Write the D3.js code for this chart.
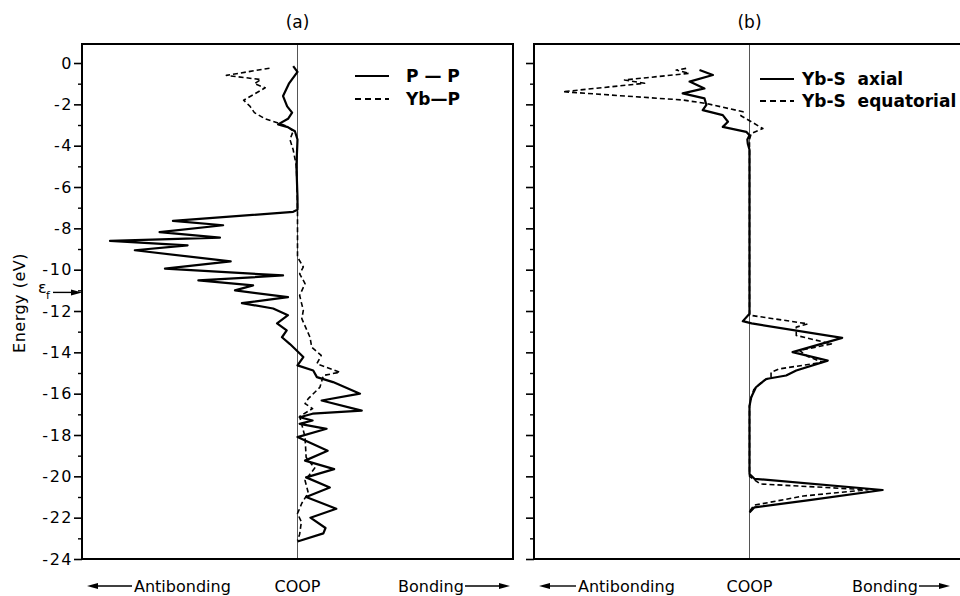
<!DOCTYPE html>
<html>
<head>
<meta charset="utf-8">
<script src="https://cdn.jsdelivr.net/npm/d3@7"></script>
<style>
  body { margin: 0; background: #fff; }
  svg { display: block; font-family: "DejaVu Sans", "Liberation Sans", sans-serif; }
</style>
</head>
<body>
<svg id="chart" width="960" height="596"></svg>
<script>
// energy (eV) and COOP pairs
var ppEnergy = [-0.15, -0.43, -1.0, -1.6, -2.1, -2.4, -2.7, -2.97, -3.1, -3.3, -3.7, -5.0, -6.5, -7.1, -7.2, -7.64, -7.85, -8.18, -8.45, -8.61, -8.82, -9.06, -9.6, -9.95, -10.28, -10.52, -10.76, -11.0, -11.33, -11.62, -11.88, -12.2, -12.6, -12.94, -13.27, -13.6, -13.9, -14.23, -14.63, -14.88, -15.2, -15.44, -16.0, -16.33, -16.82, -16.97, -17.14, -17.3, -17.46, -17.7, -18.1, -18.76, -19.24, -19.65, -20.05, -20.54, -21.0, -21.57, -22.0, -22.5, -22.76, -23.15];
var ppCoop = [-0.02, 0, -0.04, -0.067, -0.048, -0.025, -0.044, -0.09, -0.045, -0.012, 0, -0.005, 0, 0, -0.02, -0.578, -0.345, -0.64, -0.36, -0.87, -0.51, -0.755, -0.31, -0.615, -0.067, -0.46, -0.206, -0.29, -0.044, -0.258, -0.113, -0.044, -0.095, -0.05, -0.072, -0.035, -0.005, 0.027, 0.0, 0.073, 0.09, 0.165, 0.29, 0.112, 0.298, 0.07, 0.01, 0.07, 0.01, 0.135, 0.0, 0.14, 0.035, 0.17, 0.04, 0.15, 0.04, 0.18, 0.06, 0.13, 0.12, 0.0];

var ybpEnergy = [-0.25, -0.6, -0.8, -1.0, -1.2, -1.5, -1.8, -2.1, -2.4, -2.7, -2.9, -3.05, -3.3, -3.7, -4.2, -5.0, -7.0, -9.0, -9.39, -9.87, -10.2, -10.67, -11.25, -11.97, -12.37, -13.27, -13.75, -14.15, -14.55, -14.96, -15.12, -15.69, -16.24, -16.48, -16.72, -17.1, -17.5, -18.1, -19.08, -19.6, -20.2, -20.8, -21.3, -21.8, -22.2, -22.8, -23.1];
var ybpCoop = [-0.13, -0.33, -0.17, -0.2, -0.15, -0.2, -0.25, -0.22, -0.2, -0.15, -0.09, -0.05, -0.02, -0.035, -0.02, -0.005, 0, 0, 0, 0.027, 0.01, 0.035, 0.01, 0.027, 0.02, 0.058, 0.066, 0.11, 0.09, 0.197, 0.12, 0.104, 0.05, 0.035, 0.07, 0.01, 0.02, 0.035, 0.04, 0.08, 0.035, 0.05, 0.02, 0.0, 0.018, 0.01, 0.0];

var axialEnergy = [-0.34, -0.58, -0.9, -1.23, -1.47, -1.71, -2.03, -2.28, -2.52, -2.84, -3.09, -3.33, -3.5, -3.7, -3.9, -4.2, -12.13, -12.49, -12.6, -13.3, -13.99, -14.4, -14.88, -15.12, -15.29, -15.69, -16.17, -16.6, -19.89, -20.12, -20.66, -21.15, -21.5, -21.75];
var axialCoop = [-0.232, -0.17, -0.278, -0.209, -0.31, -0.209, -0.2, -0.217, -0.124, -0.1, -0.124, -0.015, 0, -0.01, -0.008, 0, 0, -0.031, 0.01, 0.43, 0.2, 0.363, 0.217, 0.17, 0.077, 0.03, 0.008, 0, 0, 0.023, 0.618, 0.278, 0.023, 0];

var equatEnergy = [-0.26, -0.34, -0.5, -0.82, -0.98, -1.39, -1.79, -1.96, -2.36, -2.55, -3.17, -3.41, -3.7, -12.2, -12.62, -12.78, -13.18, -13.59, -13.91, -14.2, -14.48, -14.8, -14.96, -15.2, -15.4, -15.8, -16.3, -16.6, -20.0, -20.37, -20.65, -20.95, -21.4, -21.7];
var equatCoop = [-0.294, -0.34, -0.28, -0.58, -0.487, -0.866, -0.31, -0.2, -0.03, -0.04, 0.062, 0.008, 0, 0, 0.27, 0.217, 0.217, 0.38, 0.232, 0.27, 0.34, 0.139, 0.1, 0.1, 0.06, 0.02, 0.005, 0, 0, 0.05, 0.55, 0.25, 0.02, 0];

var majorTicks = [0, -2, -4, -6, -8, -10, -12, -14, -16, -18, -20, -22, -24];
var minorTicks = d3.range(-23, 1, 2);
var fermiLevel = -11.1;

var svg = d3.select('#chart');
var y = d3.scaleLinear().domain([-24, 0.92]).range([559, 44]);

function zip(es, cs) {
    return es.map(function (e, i) { return { e: e, c: cs[i] }; });
}

function drawPanel(opts) {
    var x = d3.scaleLinear().domain([-1, 1]).range([opts.left, opts.left + 431]);
    var g = svg.append('g');

    // zero line
    g.append('line')
        .attr('x1', x(0)).attr('x2', x(0))
        .attr('y1', y.range()[1]).attr('y2', y.range()[0])
        .attr('stroke', '#555').attr('stroke-width', 1);

    var line = d3.line()
        .x(function (d) { return x(d.c); })
        .y(function (d) { return y(d.e); });

    opts.series.forEach(function (s) {
        g.append('path')
            .datum(zip(s.energy, s.coop))
            .attr('d', line)
            .attr('fill', 'none')
            .attr('stroke', '#000')
            .attr('stroke-width', s.dashed ? 1.6 : 2.2)
            .attr('stroke-dasharray', s.dashed ? '5,3' : null)
            .attr('stroke-linejoin', 'round');
    });

    // frame
    g.append('rect')
        .attr('x', opts.left).attr('y', y.range()[1])
        .attr('width', 431).attr('height', y.range()[0] - y.range()[1])
        .attr('fill', 'none').attr('stroke', '#000').attr('stroke-width', 2);

    var axis = d3.axisLeft(y).tickValues(majorTicks).tickSize(8).tickPadding(1)
        .tickFormat(function (d) { return opts.labels ? String(d) : ''; });
    var ax = g.append('g').attr('transform', 'translate(' + opts.left + ',0)').call(axis);
    ax.select('.domain').remove();
    ax.selectAll('line').attr('stroke-width', 1.6);
    ax.selectAll('text').attr('font-size', 16).attr('letter-spacing', 1.5).attr('fill', '#000')
        .attr('font-family', '"DejaVu Sans", sans-serif');

    var minor = g.append('g').attr('transform', 'translate(' + opts.left + ',0)')
        .call(d3.axisLeft(y).tickValues(minorTicks).tickSize(4).tickFormat(''));
    minor.select('.domain').remove();
    minor.selectAll('line').attr('stroke-width', 1.4);

    // panel title
    g.append('text').attr('x', x(0)).attr('y', 28).attr('text-anchor', 'middle')
        .attr('font-size', 17).text(opts.title);

    // legend
    opts.series.forEach(function (s, i) {
        var ly = opts.legendY + i * opts.legendGap;
        g.append('line')
            .attr('x1', opts.legendX).attr('x2', opts.legendX + 34)
            .attr('y1', ly).attr('y2', ly)
            .attr('stroke', '#000').attr('stroke-width', 1.8)
            .attr('stroke-dasharray', s.dashed ? '6,4' : null);
        g.append('text')
            .attr('x', opts.legendX + opts.legendText).attr('y', ly)
            .attr('dominant-baseline', 'central')
            .attr('font-size', 17).attr('font-weight', 'bold')
            .attr('xml:space', 'preserve')
            .text(s.label);
    });

    // bottom labels
    var by = 586;
    g.append('text').attr('x', x(0)).attr('y', by).attr('dominant-baseline', 'central')
        .attr('text-anchor', 'middle').attr('font-size', 16).text('COOP');
    g.append('text').attr('x', opts.left + opts.antiX).attr('y', by).attr('dominant-baseline', 'central')
        .attr('font-size', 16).text('Antibonding');
    g.append('text').attr('x', opts.left + opts.bondX).attr('y', by).attr('dominant-baseline', 'central')
        .attr('font-size', 16).text('Bonding');
    arrow(g, opts.left + opts.antiX - 2, opts.left + 5, by);
    arrow(g, opts.left + opts.bondX + 67, opts.left + opts.bondEnd, by);
}

function arrow(g, x1, x2, yy) {
    var dir = x2 > x1 ? 1 : -1;
    g.append('line').attr('x1', x1).attr('x2', x2 - dir * 6).attr('y1', yy).attr('y2', yy)
        .attr('stroke', '#000').attr('stroke-width', 1.4);
    g.append('path')
        .attr('d', 'M' + x2 + ',' + yy + 'L' + (x2 - dir * 11) + ',' + (yy - 3) + 'L' + (x2 - dir * 11) + ',' + (yy + 3) + 'Z')
        .attr('fill', '#000');
}

drawPanel({
    left: 82, title: '(a)', labels: true,
    legendX: 355, legendY: 76, legendGap: 23, legendText: 51,
    antiX: 52, bondX: 316, bondEnd: 428,
    series: [
        { label: 'P — P', energy: ppEnergy, coop: ppCoop, dashed: false },
        { label: 'Yb—P', energy: ybpEnergy, coop: ybpCoop, dashed: true }
    ]
});

drawPanel({
    left: 534, title: '(b)', labels: false,
    legendX: 760, legendY: 79, legendGap: 22, legendText: 42,
    antiX: 44, bondX: 318, bondEnd: 416,
    series: [
        { label: 'Yb-S  axial', energy: axialEnergy, coop: axialCoop, dashed: false },
        { label: 'Yb-S  equatorial', energy: equatEnergy, coop: equatCoop, dashed: true }
    ]
});

// y axis title and Fermi level marker
svg.append('text')
    .attr('transform', 'translate(19,303) rotate(-90)')
    .attr('text-anchor', 'middle').attr('dominant-baseline', 'central')
    .attr('font-size', 16).attr('letter-spacing', 0.5).text('Energy (eV)');
svg.append('text').attr('x', 38).attr('y', y(fermiLevel) + 1).attr('font-size', 16).text('ε');
svg.append('text').attr('x', 46).attr('y', y(fermiLevel) + 7).attr('font-size', 11).text('f');
arrow(svg, 53, 82, y(fermiLevel));
</script>
</body>
</html>
